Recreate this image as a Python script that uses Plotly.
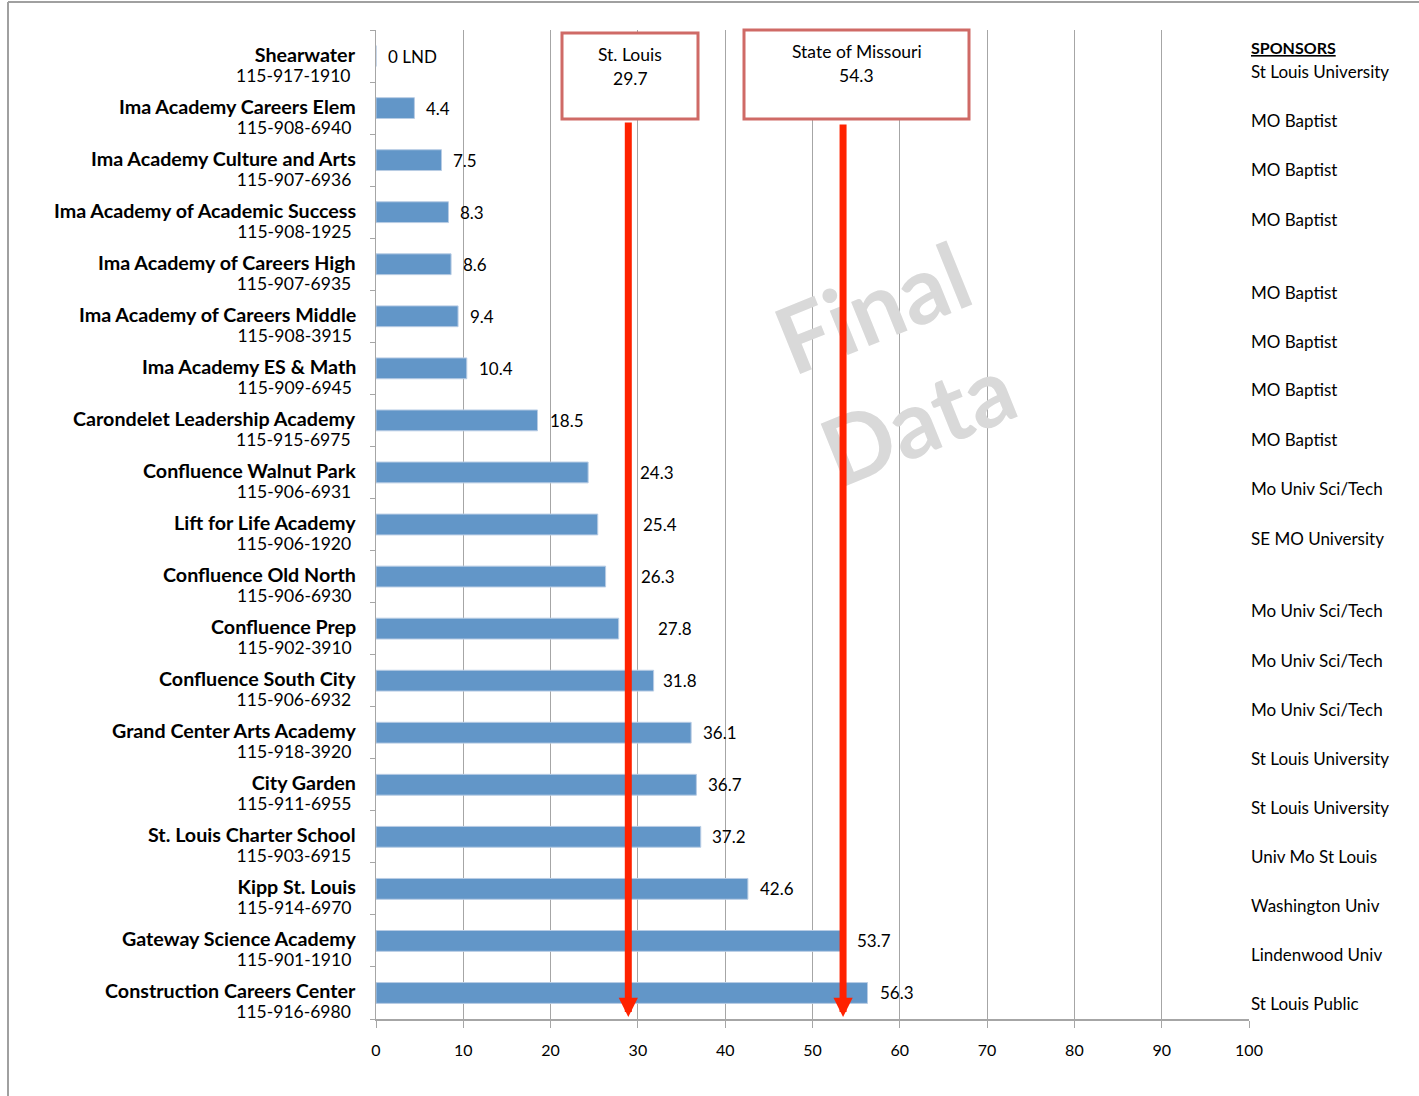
import plotly.graph_objects as go

# ---------------- data ----------------
schools = ["Shearwater", "Ima Academy Careers Elem", "Ima Academy Culture and Arts",
           "Ima Academy of Academic Success", "Ima Academy of Careers High",
           "Ima Academy of Careers Middle", "Ima Academy ES & Math",
           "Carondelet Leadership Academy", "Confluence Walnut Park", "Lift for Life Academy",
           "Confluence Old North", "Confluence Prep", "Confluence South City",
           "Grand Center Arts Academy", "City Garden", "St. Louis Charter School",
           "Kipp St. Louis", "Gateway Science Academy", "Construction Careers Center"]
codes = ["115-917-1910", "115-908-6940", "115-907-6936", "115-908-1925", "115-907-6935",
         "115-908-3915", "115-909-6945", "115-915-6975", "115-906-6931", "115-906-1920",
         "115-906-6930", "115-902-3910", "115-906-6932", "115-918-3920", "115-911-6955",
         "115-903-6915", "115-914-6970", "115-901-1910", "115-916-6980"]
values = [0, 4.4, 7.5, 8.3, 8.6, 9.4, 10.4, 18.5, 24.3, 25.4, 26.3, 27.8, 31.8,
          36.1, 36.7, 37.2, 42.6, 53.7, 56.3]
value_labels = ["0 LND", "4.4", "7.5", "8.3", "8.6", "9.4", "10.4", "18.5", "24.3", "25.4",
                "26.3", "27.8", "31.8", "36.1", "36.7", "37.2", "42.6", "53.7", "56.3"]
sponsors = ["St Louis University", "MO Baptist", "MO Baptist", "MO Baptist", "MO Baptist",
            "MO Baptist", "MO Baptist", "MO Baptist", "Mo Univ Sci/Tech", "SE MO University",
            "Mo Univ Sci/Tech", "Mo Univ Sci/Tech", "Mo Univ Sci/Tech", "St Louis University",
            "St Louis University", "Univ Mo St Louis", "Washington Univ", "Lindenwood Univ",
            "St Louis Public"]
benchmark_names = ["St. Louis", "State of Missouri"]
benchmark_values = [29.7, 54.3]
arrow_positions = [28.9, 53.5]   # where the arrows are drawn in the picture
x_ticks = [0, 10, 20, 30, 40, 50, 60, 70, 80, 90, 100]

# ---------------- layout helpers (pixel geometry) ----------------
W, H = 1419, 1096
L, R, T, B = 376, 170, 30, 77
PW, PH = W - L - R, H - T - B
FONT = "Lato"
GRAY = "#A6A6A6"


def px_x(p):
    return (p - L) / PW


def px_y(p):
    return (H - B - p) / PH


# label shifts (px) for value labels
label_shift = [12, 12, 12, 12, 12, 12, 12, 12, 52, 45, 35, 39, 9, 12, 12, 11, 12, 12, 12]
# sponsor text vertical positions (px)
sponsor_y = [71, 120, 170, 219, 292, 341, 390, 439, 488, 538, 611, 660, 709, 758, 807,
             856, 905, 954, 1003]
box_px = [(562, 33, 698, 119), (744, 30, 969, 119)]
box_text_y = [(54, 78), (51, 75)]
arrow_top = [121, 123]
arrow_tip = 1017

ypos = list(range(len(schools)))

fig = go.Figure()
fig.add_trace(go.Bar(
    x=values, y=ypos, orientation="h", width=0.4,
    marker=dict(color="#6296C8", line=dict(color="#B8CCE4", width=1)),
    hoverinfo="skip", showlegend=False))

annotations = []
# category labels (two lines in one text)
for i, (s, c) in enumerate(zip(schools, codes)):
    txt = ('<span style="font-size:19.7px"><b>' + s + '</b></span><br>'
           '<span style="font-size:17.5px">' + c + '&nbsp;</span>')
    annotations.append(dict(x=px_x(358), xref="paper", y=i, yref="y", xanchor="right",
                            yanchor="middle", align="right", text=txt, showarrow=False,
                            font=dict(family=FONT, size=15, color="black"), yshift=-8))
# value labels
for i, (v, t) in enumerate(zip(values, value_labels)):
    annotations.append(dict(x=v, y=i, xref="x", yref="y", xanchor="left", yanchor="middle",
                            text=t, showarrow=False, xshift=label_shift[i] - 2,
                            font=dict(family=FONT, size=17, color="black")))
# sponsors
annotations.append(dict(x=px_x(1249), xref="paper", y=px_y(47), yref="paper",
                        xanchor="left", yanchor="middle", text="<b><u>SPONSORS</u></b>",
                        showarrow=False, font=dict(family=FONT, size=16, color="black")))
for s, yy in zip(sponsors, sponsor_y):
    annotations.append(dict(x=px_x(1249), xref="paper", y=px_y(yy), yref="paper",
                            xanchor="left", yanchor="middle", text=s, showarrow=False,
                            font=dict(family=FONT, size=17, color="black")))
# benchmark boxes and text
shapes = []
for (x0, y0, x1, y1), name, val, (ty1, ty2) in zip(box_px, benchmark_names,
                                                    benchmark_values, box_text_y):
    shapes.append(dict(type="rect", xref="paper", yref="paper", x0=px_x(x0), x1=px_x(x1),
                       y0=px_y(y1), y1=px_y(y0), fillcolor="white",
                       line=dict(color="#CF6A66", width=3), layer="above"))
    cx = px_x((x0 + x1) / 2)
    annotations.append(dict(x=cx, y=px_y(ty1), xref="paper", yref="paper", text=name,
                            xanchor="center", yanchor="middle", showarrow=False,
                            font=dict(family=FONT, size=17.5, color="black")))
    annotations.append(dict(x=cx, y=px_y(ty2), xref="paper", yref="paper", text=str(val),
                            xanchor="center", yanchor="middle", showarrow=False,
                            font=dict(family=FONT, size=17.5, color="black")))
# watermark
annotations.append(dict(x=px_x(894), y=px_y(362), xref="paper", yref="paper",
                        xanchor="center", yanchor="middle",
                        text="<b>Final<br>Data</b>", showarrow=False, textangle=-22,
                        font=dict(family=FONT, size=93, color="#D9D9D9")))
# arrows
for xa, top in zip(arrow_positions, arrow_top):
    annotations.append(dict(x=xa, xref="x", y=px_y(arrow_tip), yref="paper",
                            ax=0, ay=-(arrow_tip - top), text="", showarrow=True,
                            arrowhead=2, arrowsize=0.55, arrowwidth=7,
                            arrowcolor="#FF2200"))

# outer frame lines
shapes.append(dict(type="line", xref="paper", yref="paper", x0=px_x(8), x1=px_x(W),
                   y0=px_y(2), y1=px_y(2), line=dict(color="#A0A0A0", width=2)))
shapes.append(dict(type="line", xref="paper", yref="paper", x0=px_x(8), x1=px_x(8),
                   y0=px_y(2), y1=px_y(H), line=dict(color="#A0A0A0", width=2)))

fig.update_layout(
    width=W, height=H, margin=dict(l=L, r=R, t=T, b=B, pad=0),
    paper_bgcolor="white", plot_bgcolor="white",
    font=dict(family=FONT, color="black"),
    annotations=annotations, shapes=shapes, showlegend=False,
    xaxis=dict(range=[0, 100], tickvals=x_ticks, showgrid=True, gridcolor=GRAY, gridwidth=1,
               showline=True, linecolor=GRAY, linewidth=2, ticks="outside", ticklen=7,
               tickcolor=GRAY, tickfont=dict(family=FONT, size=16, color="black"),
               zeroline=False, ticklabelstandoff=9, fixedrange=True),
    yaxis=dict(range=[len(schools) - 0.5, -0.5], tickvals=[k - 0.5 for k in range(len(schools) + 1)],
               showticklabels=False, ticks="outside", ticklen=5, tickcolor=GRAY,
               showline=True, linecolor=GRAY, linewidth=1, showgrid=False, zeroline=False,
               fixedrange=True),
)

fig.write_html("out.html", config={"displayModeBar": False},
               post_script="document.body.style.margin='0';")
